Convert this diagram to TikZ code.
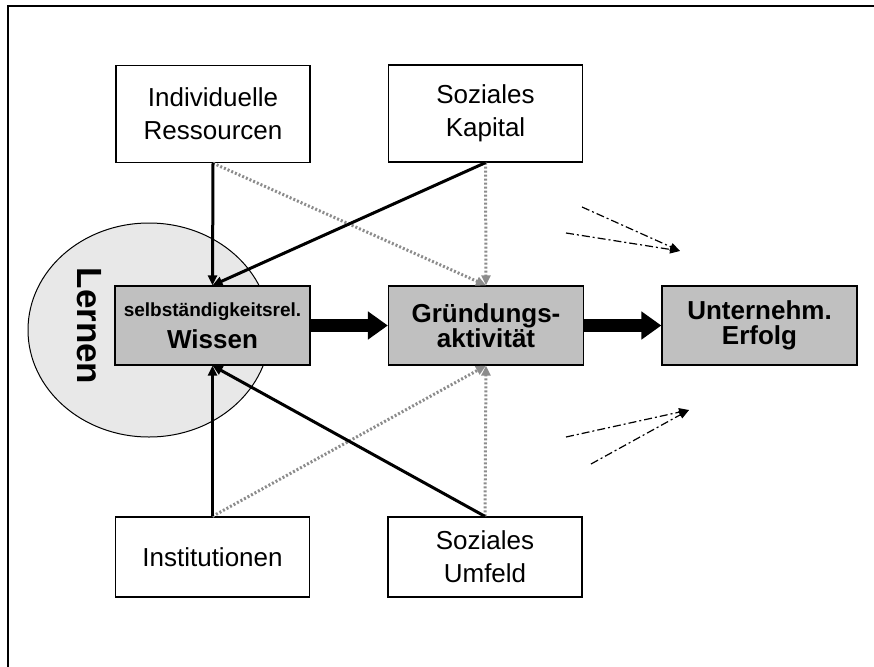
\documentclass[tikz,border=0pt]{standalone}
\usepackage{fontspec}
\setmainfont{Liberation Sans}
\usetikzlibrary{arrows.meta}
\definecolor{boxgray}{HTML}{C0C0C0}
\definecolor{ellgray}{HTML}{E8E8E8}
\definecolor{dotgray}{HTML}{8C8C8C}
\begin{document}
\begin{tikzpicture}[x=1pt,y=-1pt,
  wbox/.style={draw=black, line width=1.3pt, fill=white, minimum width=194pt, minimum height=97pt, inner sep=0pt, align=center, font=\fontsize{26}{33}\selectfont},
  gbox/.style={draw=black, line width=1.3pt, fill=boxgray, minimum width=195pt, minimum height=79pt, inner sep=0pt, align=center, font=\bfseries\fontsize{26}{22}\selectfont},
  solidarr/.style={line width=3pt, -{Triangle[length=10pt,width=9pt]}},
  dotarr/.style={dotgray, line width=3pt, dash pattern=on 2pt off 2pt, -{Triangle[length=10pt,width=9pt]}},
  fatarr/.style={line width=13pt, -{Triangle[length=20pt,width=27pt]}},
  dasharr/.style={line width=1.2pt, dash pattern=on 8pt off 3pt on 2pt off 3pt, -{Triangle[length=10pt,width=8pt]}}]
\useasboundingbox (0,0) rectangle (874,666);
\draw[line width=1.2pt] (8,6) rectangle (890,690);
% ellipse
\draw[fill=ellgray, line width=1pt] (149,330) ellipse [x radius=121, y radius=107];
\node[rotate=-90, font=\bfseries\fontsize{35}{35}\selectfont] (lern) at (89,326) {Lernen};
% boxes
\node[wbox] (ind) at (213,114) {Individuelle\\Ressourcen};
\node[wbox] (kap) at (485.5,113.5) {Soziales\\Kapital};
\node[wbox, minimum height=80pt] (ins) at (212.5,557) {Institutionen};
\node[wbox, minimum height=80pt] (umf) at (485,557) {Soziales\\Umfeld};
\node[gbox] (wis) at (212.5,325.5) {{\fontsize{19}{22}\selectfont selbständigkeitsrel.}\\[8pt]Wissen};
\node[gbox] (gru) at (486,325.5) {Gründungs-\\aktivität};
\node[gbox] (erf) at (759.5,325.5) {Unternehm.\\[3pt]Erfolg};
% gray dotted influences
\draw[dotarr] (ind.south) -- (gru.north);
\draw[dotarr] (kap.south) -- (gru.north);
\draw[dotarr] (ins.north) -- (gru.south);
\draw[dotarr] (umf.north) -- (gru.south);
% solid influences
\draw[solidarr] (ind.south) -- (wis.north);
\draw[solidarr] (kap.south) -- (wis.north);
\draw[solidarr] (ins.north) -- (wis.south);
\draw[solidarr] (umf.north) -- (wis.south);
% main chain
\draw[fatarr] (wis.east) -- (gru.west);
\draw[fatarr] (gru.east) -- (erf.west);
% dash-dot arrows
\coordinate (a1) at (582,207);
\coordinate (a2) at (566,233);
\coordinate (t1) at (680,251);
\coordinate (b1) at (566,437);
\coordinate (b2) at (591,464);
\coordinate (t2) at (689,410);
\draw[dasharr] (a1) -- (t1);
\draw[dasharr] (a2) -- (t1);
\draw[dasharr] (b1) -- (t2);
\draw[dasharr] (b2) -- (t2);
\end{tikzpicture}
\end{document}
